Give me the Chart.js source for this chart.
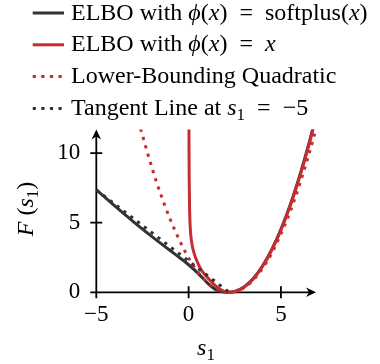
<!DOCTYPE html>
<html>
<head>
<meta charset="utf-8">
<script src="https://cdn.jsdelivr.net/npm/chart.js@4"></script>
<style>
  html, body { margin: 0; padding: 0; background: #fff; }
  #wrap { width: 380px; height: 364px; }
</style>
</head>
<body>
<div id="wrap"><canvas id="myChart" width="380" height="364"></canvas></div>
<script>
// curves
var xSoftplus = [-5, -4, -3, -2, -1, -0.5, 0, 0.5, 1, 1.25, 1.5, 1.75, 2, 2.5, 3, 3.5, 4, 4.5, 5, 5.5, 6, 6.5, 7];
var ySoftplus = [7.36, 6.2, 5.08, 4.02, 3.0, 2.5, 1.98, 1.38, 0.7, 0.4, 0.17, 0.05, 0.0, 0.06, 0.38, 0.99, 1.89, 3.07, 4.53, 6.27, 8.31, 10.6, 13.2];

var xIdentity = [0.012, 0.02, 0.03, 0.05, 0.08, 0.12, 0.2, 0.3, 0.4, 0.57, 0.75, 1, 1.25, 1.5, 1.75, 2, 2.25, 2.5, 3, 3.5, 4, 4.5, 5, 5.5, 6, 6.5, 7];
var yIdentity = [14.5, 11.2, 8.4, 6.17, 4.86, 4.07, 3.33, 2.8, 2.41, 1.89, 1.49, 1.1, 0.74, 0.42, 0.18, 0.04, 0.0, 0.05, 0.36, 0.96, 1.85, 3.02, 4.47, 6.2, 8.23, 10.5, 13.1];

var xQuad = [-2.6, -2, -1.5, -1, -0.5, 0, 0.5, 1, 1.5, 2, 2.5, 3, 3.5, 4, 4.5, 5, 5.5, 6, 6.5, 7];
var yQuad = [11.75, 9.0, 7.0, 5.25, 3.75, 2.47, 1.47, 0.73, 0.25, 0.02, 0.04, 0.32, 0.88, 1.7, 2.8, 4.2, 5.8, 7.7, 9.85, 12.2];

var xTangent = [-5, 2.2];
var yTangent = [7.36, 0];

var xTicks = [-5, 0, 5];
var yTicks = [0, 5, 10];

var BLACK = '#333333';
var RED = '#c62d30';
var SERIF = '"Liberation Serif", "Times New Roman", serif';

function pts(xs, ys) {
    return xs.map(function(x, i) { return {x: x, y: ys[i]}; });
}
function fnt(size, italic) {
    return (italic ? 'italic ' : '') + size + 'px ' + SERIF;
}

// mixed roman / italic / subscript text
function richWidth(ctx, parts, size) {
    var w = 0;
    parts.forEach(function(p) {
        ctx.font = p[1] === 'sub' ? fnt(Math.round(size * 0.7), false) : fnt(size, p[1] === 'i');
        w += ctx.measureText(p[0]).width;
    });
    return w;
}
function drawRich(ctx, parts, x, y, size) {
    ctx.textAlign = 'left';
    ctx.textBaseline = 'alphabetic';
    parts.forEach(function(p) {
        var dy = 0;
        if (p[1] === 'sub') {
            ctx.font = fnt(Math.round(size * 0.7), false);
            dy = size * 0.22;
        } else {
            ctx.font = fnt(size, p[1] === 'i');
        }
        ctx.fillText(p[0], x, y + dy);
        x += ctx.measureText(p[0]).width;
    });
    return x;
}

var legendRows = [
    [['ELBO with ', 'r'], ['\u03D5', 'i'], ['(', 'r'], ['x', 'i'], [')  =  softplus(', 'r'], ['x', 'i'], [')', 'r']],
    [['ELBO with ', 'r'], ['\u03D5', 'i'], ['(', 'r'], ['x', 'i'], [')  =  ', 'r'], ['x', 'i']],
    [['Lower-Bounding Quadratic', 'r']],
    [['Tangent Line at ', 'r'], ['s', 'i'], ['1', 'sub'], ['  =  \u22125', 'r']]
];

var axesPlugin = {
    id: 'axesPlugin',
    beforeDatasetsDraw: function(chart) {
        var ctx = chart.ctx;
        var xs = chart.scales.x, ys = chart.scales.y;
        var x0 = xs.getPixelForValue(-5), y0 = ys.getPixelForValue(0);
        var xEnd = xs.right, yEnd = ys.top;
        ctx.save();
        ctx.strokeStyle = '#000';
        ctx.fillStyle = '#000';
        ctx.lineWidth = 1.8;
        ctx.beginPath();
        ctx.moveTo(x0 - 1, y0); ctx.lineTo(xEnd - 4, y0);
        ctx.moveTo(x0, y0 + 1); ctx.lineTo(x0, yEnd + 4);
        xTicks.forEach(function(v) {
            var p = xs.getPixelForValue(v);
            ctx.moveTo(p, y0 - 6); ctx.lineTo(p, y0 + 6);
        });
        yTicks.forEach(function(v) {
            var p = ys.getPixelForValue(v);
            ctx.moveTo(x0 - 6, p); ctx.lineTo(x0 + 6, p);
        });
        ctx.stroke();
        // arrow heads
        ctx.beginPath();
        ctx.moveTo(xEnd, y0); ctx.lineTo(xEnd - 10, y0 - 4.8); ctx.lineTo(xEnd - 7, y0); ctx.lineTo(xEnd - 10, y0 + 4.8);
        ctx.closePath();
        ctx.moveTo(x0, yEnd); ctx.lineTo(x0 - 4.8, yEnd + 10); ctx.lineTo(x0, yEnd + 7); ctx.lineTo(x0 + 4.8, yEnd + 10);
        ctx.closePath();
        ctx.fill();
        ctx.restore();
    },
    afterDraw: function(chart) {
        var ctx = chart.ctx;
        ctx.save();
        ctx.fillStyle = '#000';
        // legend
        chart.data.datasets.forEach(function(ds, i) {
            var y = 13 + i * 31.8;
            ctx.save();
            ctx.strokeStyle = ds.borderColor;
            ctx.lineWidth = ds.borderWidth;
            ctx.setLineDash(ds.borderDash || []);
            ctx.beginPath();
            ctx.moveTo(32.7, y); ctx.lineTo(64, y);
            ctx.stroke();
            ctx.restore();
            drawRich(ctx, legendRows[i], 71, y + 6.5, 24);
        });
        // x title
        var xt = [['s', 'i'], ['1', 'sub']];
        var w = richWidth(ctx, xt, 24);
        drawRich(ctx, xt, 206 - w / 2, 355, 24);
        // y title
        var yt = [['F', 'i'], [' (', 'r'], ['s', 'i'], ['1', 'sub'], [')', 'r']];
        w = richWidth(ctx, yt, 24);
        ctx.translate(33, 209);
        ctx.rotate(-Math.PI / 2);
        drawRich(ctx, yt, -w / 2, 0, 24);
        ctx.restore();
    }
};

var ctx = document.getElementById('myChart').getContext('2d');
var chart = new Chart(ctx, {
    type: 'scatter',
    data: {
        datasets: [
            {
                label: 'ELBO with softplus',
                data: pts(xSoftplus, ySoftplus),
                borderColor: BLACK,
                borderWidth: 3,
                order: 4
            },
            {
                label: 'ELBO with identity',
                data: pts(xIdentity, yIdentity),
                borderColor: RED,
                borderWidth: 3,
                order: 3
            },
            {
                label: 'Lower-Bounding Quadratic',
                data: pts(xQuad, yQuad),
                borderColor: RED,
                borderWidth: 3,
                borderDash: [3.2, 5.4],
                order: 2
            },
            {
                label: 'Tangent Line',
                data: pts(xTangent, yTangent),
                borderColor: BLACK,
                borderWidth: 3,
                borderDash: [3.2, 5.4],
                order: 1
            }
        ]
    },
    options: {
        responsive: false,
        animation: false,
        devicePixelRatio: 1,
        showLine: true,
        layout: { padding: { top: 129.4, right: 64, bottom: 0, left: 0 } },
        elements: {
            point: { radius: 0, hoverRadius: 0 },
            line: { cubicInterpolationMode: 'monotone', fill: false, borderCapStyle: 'butt' }
        },
        datasets: { scatter: { clip: { left: 0, top: 0, right: 0, bottom: 2 } } },
        plugins: { legend: { display: false }, tooltip: { enabled: false } },
        scales: {
            x: {
                type: 'linear', min: -5, max: 6.9,
                border: { display: false },
                grid: { display: false, drawTicks: false },
                afterFit: function(s) { s.height = 71.7; },
                afterBuildTicks: function(s) { s.ticks = xTicks.map(function(v) { return {value: v}; }); },
                ticks: {
                    padding: 9, color: '#000', maxRotation: 0,
                    font: { family: SERIF, size: 23 },
                    callback: function(v) { return v < 0 ? '\u2212' + Math.abs(v) : '' + v; }
                }
            },
            y: {
                type: 'linear', min: 0, max: 11.7,
                border: { display: false },
                grid: { display: false, drawTicks: false },
                afterFit: function(s) { s.width = 96.3; },
                afterBuildTicks: function(s) { s.ticks = yTicks.map(function(v) { return {value: v}; }); },
                ticks: {
                    padding: 16, color: '#000',
                    font: { family: SERIF, size: 23 }
                }
            }
        }
    },
    plugins: [axesPlugin]
});
</script>
</body>
</html>
